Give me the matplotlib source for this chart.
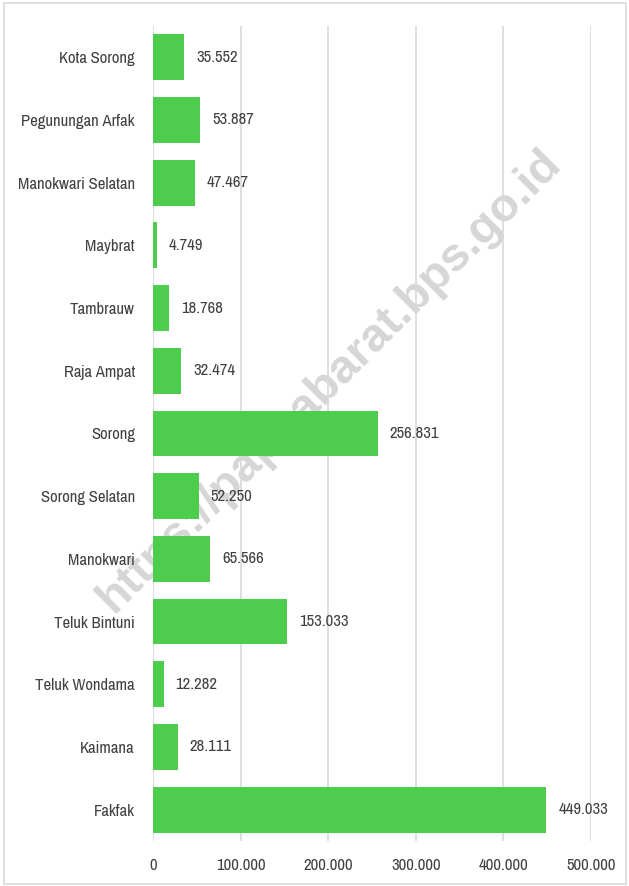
import matplotlib
matplotlib.use("Agg")
import matplotlib.pyplot as plt
from matplotlib import font_manager

# data (top to bottom as in the picture)
kabupaten = ["Kota Sorong", "Pegunungan Arfak", "Manokwari Selatan", "Maybrat",
             "Tambrauw", "Raja Ampat", "Sorong", "Sorong Selatan", "Manokwari",
             "Teluk Bintuni", "Teluk Wondama", "Kaimana", "Fakfak"]
nilai = [35552, 53887, 47467, 4749, 18768, 32474, 256831, 52250, 65566,
         153033, 12282, 28111, 449033]
xticks = [0, 100000, 200000, 300000, 400000, 500000]

# look for a narrow font, else fall back to a smaller normal one
narrow = None
for f in font_manager.fontManager.ttflist:
    if "Narrow" in f.name or "Condensed" in f.name:
        narrow = f.name
        break
if narrow is None:
    narrow = "Liberation Sans"
    fs = 10.5
else:
    fs = 12
plt.rcParams["font.family"] = [narrow, "DejaVu Sans"]


def titik(v):
    return f"{v:,}".replace(",", ".")


fig = plt.figure(figsize=(6.29, 8.86), dpi=100)
ax = fig.add_axes([0.2432, 0.0508, 0.6964, 0.92])
ax.patch.set_alpha(0)

# frame around chart
fig.patches.append(plt.Rectangle((0.006, 0.002), 0.99, 0.995, transform=fig.transFigure,
                                 fill=False, edgecolor="#d9d9d9", linewidth=1.2))

y = list(range(len(kabupaten)))
ax.barh(y, nilai, height=0.73, color="#4ecc4e", zorder=3)
ax.set_ylim(len(kabupaten) - 0.5, -0.5)
ax.set_xlim(0, 500000)

for i, v in enumerate(nilai):
    ax.annotate(titik(v), (v, i), xytext=(8.5, 0), textcoords="offset points",
                ha="left", va="center", fontsize=fs, color="#404040")

ax.set_yticks(y)
ax.set_yticklabels(kabupaten, fontsize=fs, color="#404040")
ax.set_xticks(xticks)
ax.set_xticklabels([titik(t) for t in xticks], fontsize=fs, color="#404040")
ax.tick_params(axis="y", length=0, pad=13)
ax.tick_params(axis="x", length=0, pad=12)
ax.grid(axis="x", color="#d9d9d9", linewidth=1.2, zorder=0)
for s in ax.spines.values():
    s.set_visible(False)

# watermark, behind the bars
fig.text(0.525, 0.57, "https://papuabarat.bps.go.id", rotation=45, fontsize=34,
         fontweight="bold", color="#d6d6d6", ha="center", va="center",
         family="Liberation Sans", zorder=-1)

fig.savefig("out.png", dpi=100)
